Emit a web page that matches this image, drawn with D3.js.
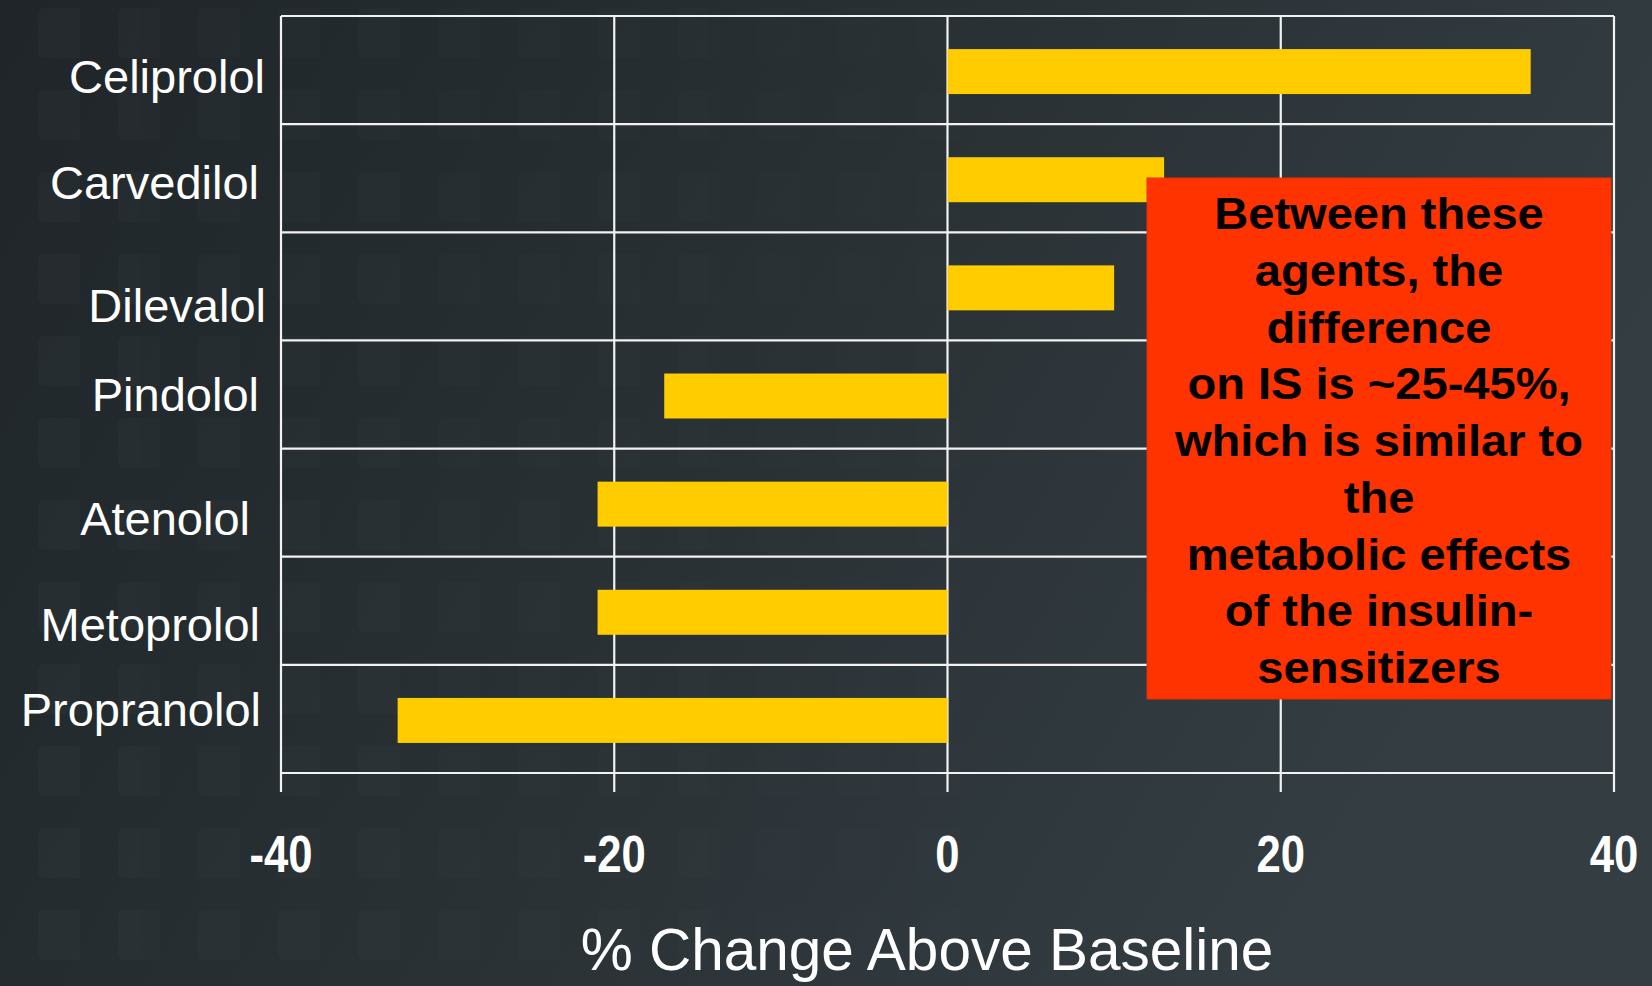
<!DOCTYPE html>
<html><head><meta charset="utf-8">
<script src="https://cdn.jsdelivr.net/npm/d3@7"></script>
<style>html,body{margin:0;padding:0;background:#272e32;overflow:hidden}</style>
</head><body><svg id="c" width="1652" height="986"></svg>
<script>
// ---- data ----
const categories = ["Celiprolol","Carvedilol","Dilevalol","Pindolol","Atenolol","Metoprolol","Propranolol"];
const values = [35, 13, 10, -17, -21, -21, -33];
const xTicks = [-40, -20, 0, 20, 40];
const xTitle = "% Change Above Baseline";
const noteLines = ["Between these","agents, the","difference","on IS is ~25-45%,","which is similar to","the","metabolic effects","of the insulin-","sensitizers"];

// ---- layout (not data) ----
const W = 1652, H = 986;
const plot = {left: 281, right: 1614, top: 16, bottom: 773};
const labelNudge = [[1,23],[-5,21],[2,36],[-5,16],[-14,32],[-4,30],[-3,7]]; // per-label dx, dy from row centre
const font = "'Liberation Sans', Arial, sans-serif";

const svg = d3.select("#c");
const defs = svg.append("defs");
const bg = defs.append("linearGradient").attr("id","bg").attr("x1","0").attr("y1","0").attr("x2","1").attr("y2","0.35");
bg.append("stop").attr("offset","0%").attr("stop-color","#1f2528");
bg.append("stop").attr("offset","55%").attr("stop-color","#293135");
bg.append("stop").attr("offset","100%").attr("stop-color","#343d42");
svg.append("rect").attr("width",W).attr("height",H).attr("fill","url(#bg)");

// subtle tile pattern on the left part of the background
const pat = defs.append("pattern").attr("id","tiles").attr("patternUnits","userSpaceOnUse")
  .attr("width",80).attr("height",82);
pat.append("rect").attr("x",38).attr("y",8).attr("width",50).attr("height",50).attr("rx",6)
  .attr("fill","#ffffff").attr("opacity",0.018);
const fade = defs.append("linearGradient").attr("id","fade");
fade.append("stop").attr("offset","0%").attr("stop-color","#fff").attr("stop-opacity",1);
fade.append("stop").attr("offset","60%").attr("stop-color","#fff").attr("stop-opacity",0.3);
fade.append("stop").attr("offset","100%").attr("stop-color","#fff").attr("stop-opacity",0);
defs.append("mask").attr("id","fm").append("rect").attr("width",W).attr("height",H).attr("fill","url(#fade)");
svg.append("rect").attr("width",W).attr("height",H).attr("fill","url(#tiles)").attr("mask","url(#fm)");

// ---- scales ----
const x = d3.scaleLinear().domain([-40, 40]).range([plot.left, plot.right]);
const rows = d3.scaleBand().domain(categories).range([plot.top, plot.bottom]).padding(0);
const y = d3.scaleBand().domain(categories).range([plot.top + 1.5, plot.bottom + 1.5])
  .paddingInner(0.584).paddingOuter(0.292);

// ---- grid ----
const grid = svg.append("g").attr("stroke","#f2f2f2").attr("stroke-width",2.2);
const hLines = categories.map(c => rows(c)).concat([plot.bottom]);
grid.selectAll("line.h").data(hLines).join("line").attr("class","h")
  .attr("x1", x(-40)).attr("x2", x(40)).attr("y1", d => d).attr("y2", d => d);
grid.selectAll("line.v").data(xTicks).join("line").attr("class","v")
  .attr("x1", d => x(d)).attr("x2", d => x(d)).attr("y1", plot.top).attr("y2", plot.bottom + 19);

// ---- bars ----
svg.append("g").selectAll("rect").data(categories).join("rect")
  .attr("x", (c,i) => x(Math.min(0, values[i])))
  .attr("width", (c,i) => Math.abs(x(values[i]) - x(0)))
  .attr("y", c => y(c))
  .attr("height", y.bandwidth())
  .attr("fill", "#ffcc00");

// ---- category labels ----
svg.append("g").selectAll("text").data(categories).join("text")
  .attr("x", (c,i) => 264 + labelNudge[i][0])
  .attr("y", (c,i) => rows(c) + rows.bandwidth()/2 + labelNudge[i][1])
  .attr("text-anchor","end")
  .attr("fill","#ffffff")
  .style("font-family", font).style("font-size","47px")
  .text(c => c);

// ---- x tick labels ----
svg.append("g").selectAll("g").data(xTicks).join("g")
  .attr("transform", d => `translate(${x(d)},872) scale(0.84,1)`)
  .append("text")
  .attr("text-anchor","middle").attr("fill","#ffffff")
  .style("font-family", font).style("font-size","52px").style("font-weight","bold")
  .text(d => d3.format("d")(d).replace("−","-"));

// ---- x title ----
svg.append("text").attr("x", 927).attr("y", 970).attr("text-anchor","middle")
  .attr("fill","#ffffff").style("font-family", font).style("font-size","58.5px")
  .text(xTitle);

// ---- note box ----
const note = svg.append("g");
note.append("rect").attr("x", 1147).attr("y", 178).attr("width", 464).attr("height", 521)
  .attr("fill", "#ff3300").attr("stroke","#e83000").attr("stroke-width",1);
note.selectAll("g").data(noteLines).join("g")
  .attr("transform", (d,i) => `translate(1379,${229 + i*56.75}) scale(1.07,1)`)
  .append("text").attr("text-anchor","middle").attr("fill","#000000")
  .style("font-family", font).style("font-size","44px").style("font-weight","bold")
  .text(d => d);
</script>
</body></html>
